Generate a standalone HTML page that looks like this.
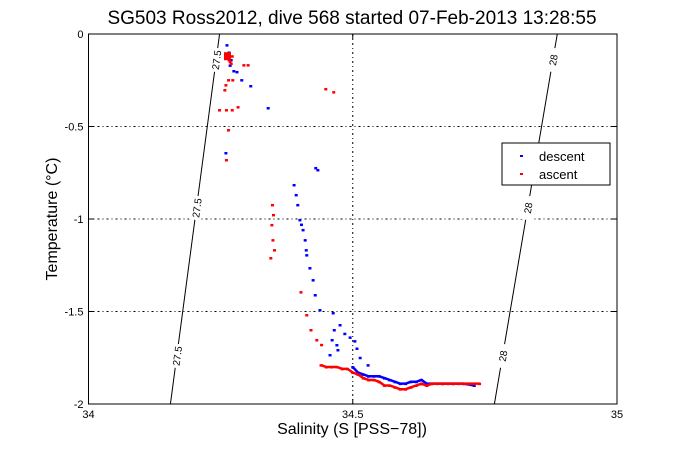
<!DOCTYPE html>
<html><head><meta charset="utf-8"><style>
body{margin:0;background:#fff;}
svg{display:block;font-family:"Liberation Sans",sans-serif;}
</style></head><body>
<svg id="chart" width="681" height="454" viewBox="0 0 681 454">
<rect width="681" height="454" fill="#fff"/>
<text x="352" y="24" font-size="19" text-anchor="middle">SG503 Ross2012, dive 568 started 07-Feb-2013 13:28:55</text>
<text x="352" y="434" font-size="16" text-anchor="middle">Salinity (S [PSS−78])</text>
<text transform="translate(57,219) rotate(-90)" font-size="16" text-anchor="middle">Temperature (°C)</text>
<g id="grid"></g>
<g id="iso"></g>
<g id="marks"></g>
<rect x="88.5" y="34" width="528.5" height="370" fill="none" stroke="#000" stroke-width="1"/>
<g id="ticks"></g>
<g>
<rect x="502" y="143" width="108" height="42" fill="#fff" stroke="#000"/>
<rect x="520" y="155" width="3" height="2" fill="#00f"/>
<text x="539" y="161" font-size="13">descent</text>
<rect x="520" y="173" width="3" height="2" fill="#f00"/>
<text x="539" y="179" font-size="13">ascent</text>
</g>
</svg>
<script>
const xTicks=[34,34.5,35];
const xTickLabels=["34","34.5","35"];
const yTicks=[0,-0.5,-1,-1.5,-2];
const yTickLabels=["0","-0.5","-1","-1.5","-2"];
const descentS=[34.262,34.266,34.270,34.268,34.275,34.281,34.290,34.307,34.340,34.260,34.430,34.434,34.389,34.393,34.396,34.400,34.403,34.406,34.410,34.412,34.413,34.419,34.425,34.429,34.438,34.463,34.465,34.470,34.472,34.457,34.461,34.476,34.485,34.495,34.504,34.508,34.514,34.529];
const descentT=[-0.06,-0.10,-0.14,-0.17,-0.20,-0.205,-0.249,-0.281,-0.40,-0.643,-0.724,-0.735,-0.816,-0.870,-0.924,-1.005,-1.03,-1.059,-1.114,-1.168,-1.195,-1.265,-1.33,-1.411,-1.492,-1.508,-1.60,-1.681,-1.708,-1.735,-1.654,-1.573,-1.62,-1.64,-1.66,-1.70,-1.75,-1.79];
const descentTailS=[34.50,34.51,34.52,34.53,34.54,34.55,34.56,34.57,34.58,34.59,34.60,34.61,34.62,34.63,34.64,34.65,34.67,34.69,34.71,34.73];
const descentTailT=[-1.80,-1.83,-1.84,-1.85,-1.85,-1.85,-1.86,-1.87,-1.88,-1.89,-1.89,-1.88,-1.88,-1.87,-1.89,-1.89,-1.89,-1.89,-1.89,-1.90];
const ascentS=[34.264,34.266,34.268,34.270,34.272,34.260,34.258,34.265,34.273,34.294,34.302,34.248,34.261,34.272,34.283,34.265,34.261,34.449,34.464,34.348,34.350,34.347,34.349,34.345,34.352,34.402,34.413,34.421,34.432,34.441];
const ascentT=[-0.13,-0.14,-0.15,-0.16,-0.12,-0.276,-0.303,-0.249,-0.249,-0.168,-0.168,-0.411,-0.411,-0.411,-0.395,-0.519,-0.681,-0.297,-0.314,-0.924,-0.978,-1.032,-1.114,-1.211,-1.168,-1.395,-1.519,-1.60,-1.654,-1.68];
const ascentTailS=[34.44,34.45,34.46,34.47,34.48,34.49,34.50,34.51,34.52,34.53,34.54,34.55,34.56,34.57,34.58,34.59,34.60,34.61,34.62,34.63,34.64,34.65,34.66,34.67,34.68,34.69,34.70,34.71,34.72,34.73,34.74];
const ascentTailT=[-1.79,-1.80,-1.80,-1.80,-1.81,-1.81,-1.83,-1.84,-1.86,-1.87,-1.87,-1.88,-1.90,-1.90,-1.91,-1.92,-1.92,-1.91,-1.90,-1.89,-1.90,-1.89,-1.89,-1.89,-1.89,-1.89,-1.89,-1.89,-1.89,-1.89,-1.89];
const isoLabels=["27.5","28"];
const isoTopS=[34.248,34.887];
const isoBotS=[34.155,34.768];

const X0=88.5,X1=617,Y0=34,Y1=404;
const xs=s=>X0+(s-34)/(35-34)*(X1-X0);
const ys=t=>Y0+(0-t)/(0-(-2))*(Y1-Y0);
const NS="http://www.w3.org/2000/svg";
function mk(tag,attrs,parent){const e=document.createElementNS(NS,tag);for(const k in attrs)e.setAttribute(k,attrs[k]);parent.appendChild(e);return e;}
const grid=document.getElementById('grid'),ticks=document.getElementById('ticks'),iso=document.getElementById('iso'),marks=document.getElementById('marks');
xTicks.forEach((v,i)=>{const x=xs(v);
 if(i>0&&i<xTicks.length-1){const g=mk('line',{x1:x,y1:Y0,x2:x,y2:Y1,stroke:'#000','stroke-dasharray':'2,3,1,3'},grid);
 
 }
 const t=mk('text',{x:x,y:Y1+14,'font-size':'11','text-anchor':'middle'},ticks);t.textContent=xTickLabels[i];
 
 
 mk('line',{x1:x,y1:Y1,x2:x,y2:Y1-5,stroke:'#000'},ticks);mk('line',{x1:x,y1:Y0,x2:x,y2:Y0+5,stroke:'#000'},ticks);});
yTicks.forEach((v,i)=>{const y=ys(v);
 if(i>0&&i<yTicks.length-1){const g=mk('line',{x1:X0,y1:y,x2:X1,y2:y,stroke:'#000','stroke-dasharray':'2,3,1,3'},grid);
 
 }
 const t=mk('text',{x:X0-5,y:y+4,'font-size':'11','text-anchor':'end'},ticks);t.textContent=yTickLabels[i];
 
 
 mk('line',{x1:X0,y1:y,x2:X0+5,y2:y,stroke:'#000'},ticks);mk('line',{x1:X1,y1:y,x2:X1-5,y2:y,stroke:'#000'},ticks);});
isoLabels.forEach((lab,i)=>{const xa=xs(isoTopS[i]),xb=xs(isoBotS[i]);
 const l=mk('line',{x1:xa,y1:Y0,x2:xb,y2:Y1,stroke:'#000'},iso);
 
 
 const ang=Math.atan2(Y1-Y0,xb-xa)*180/Math.PI-180;
 [0.07,0.47,0.87].forEach(f=>{const px=xa+(xb-xa)*f,py=Y0+(Y1-Y0)*f;
  mk('rect',{x:-12,y:-6,width:24,height:12,fill:'#fff',transform:`translate(${px},${py}) rotate(${ang})`},iso);
  const t=mk('text',{'font-size':'10','text-anchor':'middle',transform:`translate(${px},${py}) rotate(${ang})`,y:4},iso);
  t.textContent=lab;
  
  });});
function tail(S,T,c){const pts=S.map((s,i)=>xs(s)+','+ys(T[i])).join(' ');
 const p=mk('polyline',{points:pts,fill:'none',stroke:c,'stroke-width':'2.5'},marks);
 
 }
function dots(S,T,c,name){S.forEach((s,i)=>{const r=mk('rect',{x:xs(s)-1.5,y:ys(T[i])-1,width:3,height:2.5,fill:c},marks);
 
 });}
dots(descentS,descentT,'#00f','descent-point');
tail(descentTailS,descentTailT,'#00f');dots(descentTailS,descentTailT,'#00f','descent-point');
dots(ascentS,ascentT,'#f00','ascent-point');
tail(ascentTailS,ascentTailT,'#f00');dots(ascentTailS,ascentTailT,'#f00','ascent-point');
const cl=mk('rect',{x:xs(34.262)-3,y:ys(-0.12)-4,width:7,height:8,fill:'#f00'},marks);


</script>
</body></html>
